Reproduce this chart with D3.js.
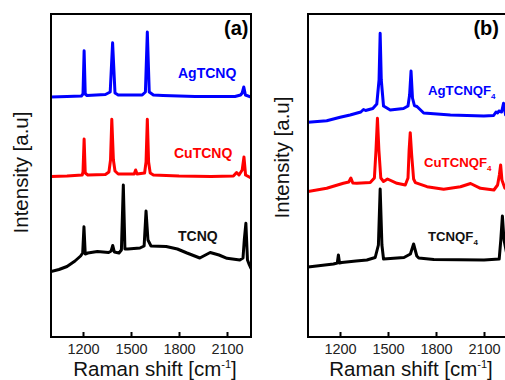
<!DOCTYPE html>
<html>
<head>
<meta charset="utf-8">
<script src="https://cdn.jsdelivr.net/npm/d3@7"></script>
<style>
  html, body { margin: 0; padding: 0; background: #ffffff; }
  svg { display: block; font-family: "Liberation Sans", Arial, Helvetica, sans-serif; }
</style>
</head>
<body>
<svg id="chart" width="505" height="380"></svg>
<script>
// ---------------- data (Raman shift [cm-1], intensity [a.u., stacked]) ----------------
const shiftDomain = [1000, 2250];
const intensityDomain = [0, 323];
const shiftTicks = [1200, 1500, 1800, 2100];

const seriesNamesA = ["AgTCNQ", "CuTCNQ", "TCNQ"];
const seriesNamesB = ["AgTCNQF", "CuTCNQF", "TCNQF"];
const seriesColors = ["#0000ff", "#ff0000", "#000000"];
const panelLetters = ["(a)", "(b)"];

const agTCNQ = [
  [1000,240],[1100,240.5],[1190,241],[1200,243],[1207,286.3],[1214,243],[1225,241.5],
  [1340,242.5],[1370,245],[1385,294.3],[1400,244],[1420,242],[1570,242],[1590,245],
  [1602,305],[1614,245],[1640,242],[1700,241.5],[1900,240.5],[2150,240.5],[2185,242],
  [2195,244],[2205,250],[2215,242],[2250,240]
];
const cuTCNQ = [
  [1000,160.5],[1100,161],[1195,162],[1200,165],[1207,198],[1214,164],[1230,162],
  [1340,162.5],[1362,165],[1372,177],[1380,217.7],[1390,177],[1400,166],[1420,163],
  [1520,163],[1529,167],[1538,163],[1585,164],[1594,175],[1602,217.7],[1610,175],
  [1620,164],[1640,162],[1800,161],[2000,160.5],[2140,161],[2160,164.5],[2175,162],
  [2195,167],[2206,180],[2216,162],[2250,159]
];
const TCNQ = [
  [1000,65.5],[1050,67.5],[1100,70.5],[1150,76],[1185,81],[1198,84],[1206,110.3],
  [1214,83],[1230,84],[1290,85.5],[1360,84.5],[1376,86],[1386,91.5],[1396,85],
  [1425,84],[1440,87],[1452,152],[1462,88],[1480,88],[1556,89],[1582,91],[1594,126],
  [1606,97],[1625,91],[1720,90.5],[1790,88],[1850,84],[1930,79],[1995,84.5],
  [2050,82],[2100,78.7],[2180,77],[2200,79],[2208,97],[2218,113.7],[2228,77],
  [2240,72],[2250,68.5]
];
const agTCNQF4 = [
  [1000,214.7],[1117,216.3],[1201,219.7],[1263,222],[1330,225],[1347,227.5],[1360,226.5],
  [1405,228.5],[1430,233],[1444,257],[1451,303.7],[1458,257],[1472,231],[1514,227],
  [1597,228.5],[1625,231],[1635,242],[1644,266],[1653,239],[1665,231.5],[1681,230.5],
  [1723,224],[1890,222],[2099,221],[2160,221.5],[2175,225],[2185,224],[2193,226],
  [2210,225],[2222,233.7],[2235,222],[2250,221]
];
const cuTCNQF4 = [
  [1000,145.5],[1117,148.7],[1221,153.7],[1255,155],[1268,159],[1280,154],[1305,153.7],
  [1389,154.5],[1415,159],[1425,187],[1434,218.7],[1443,187],[1455,159],[1472,155.5],
  [1497,158],[1556,153.7],[1608,152],[1625,159],[1632,187],[1639,204.3],[1648,182],
  [1660,158],[1671,154.3],[1744,150.3],[1848,147.7],[1953,150.3],[2016,153.5],
  [2078,148.7],[2162,147],[2185,152],[2196,162],[2204,172],[2212,157],[2230,149],[2250,147]
];
const TCNQF4 = [
  [1000,70],[1159,73],[1183,74],[1190,82],[1197,74],[1211,74.5],[1300,76],[1368,77],
  [1420,79.5],[1440,92],[1451,148],[1462,92],[1472,78],[1600,79.5],[1640,83],[1660,93],
  [1680,81],[1692,79],[1786,77.5],[2100,77],[2195,78],[2205,97],[2215,121],[2225,97],[2250,77]
];

// ---------------- layout ----------------
const svg = d3.select("#chart");
const panels = [
  { left: 51, right: 251, top: 14, bottom: 337, series: [agTCNQ, cuTCNQ, TCNQ], names: seriesNamesA, sub: false,
    labelPos: [[178, 78], [174, 158], [178, 241]], labelSize: 14, letterX: 248.5,
    yLabel: [28, 172.5], xLabelDx: 4 },
  { left: 308, right: 508, top: 14, bottom: 337, series: [agTCNQF4, cuTCNQF4, TCNQF4], names: seriesNamesB, sub: true,
    labelPos: [[428, 95], [424, 167], [428, 241]], labelSize: 13.2, letterX: 499,
    yLabel: [289, 157.5], xLabelDx: 3 }
];

panels.forEach((p, i) => {
  const x = d3.scaleLinear().domain(shiftDomain).range([p.left, p.right]);
  const y = d3.scaleLinear().domain(intensityDomain).range([p.bottom, p.top]);
  const g = svg.append("g");

  const clipId = "clip" + i;
  svg.append("defs").append("clipPath").attr("id", clipId)
    .append("rect").attr("x", p.left).attr("y", p.top)
    .attr("width", p.right - p.left).attr("height", p.bottom - p.top);

  const line = d3.line().x(d => x(d[0])).y(d => y(d[1]));
  p.series.forEach((s, k) => {
    g.append("path").datum(s)
      .attr("clip-path", `url(#${clipId})`)
      .attr("d", line)
      .attr("fill", "none")
      .attr("stroke", seriesColors[k])
      .attr("stroke-width", 3)
      .attr("stroke-linejoin", "round")
      .attr("stroke-linecap", "round");
  });

  // frame
  g.append("rect")
    .attr("x", p.left).attr("y", p.top)
    .attr("width", p.right - p.left).attr("height", p.bottom - p.top)
    .attr("fill", "none").attr("stroke", "#000").attr("stroke-width", 2);

  // x axis with inward ticks
  const ax = g.append("g").attr("transform", `translate(0,${p.bottom})`)
    .call(d3.axisBottom(x).tickValues(shiftTicks).tickFormat(d3.format("d"))
      .tickSizeInner(-5).tickSizeOuter(0).tickPadding(7));
  ax.select(".domain").remove();
  ax.selectAll(".tick line").attr("stroke", "#000").attr("stroke-width", 2);
  ax.selectAll(".tick text").attr("fill", "#222").attr("font-size", 14.5)
    .attr("font-family", "'Liberation Sans', Arial, sans-serif");

  // x title
  const xt = g.append("text")
    .attr("x", (p.left + p.right) / 2 + p.xLabelDx).attr("y", 376)
    .attr("text-anchor", "middle").attr("font-size", 20.5).attr("fill", "#111");
  xt.append("tspan").text("Raman shift [cm");
  xt.append("tspan").attr("font-size", 11).attr("dy", -8).text("-1");
  xt.append("tspan").attr("dy", 8).text("]");

  // y title
  g.append("text")
    .attr("transform", `translate(${p.yLabel[0]},${p.yLabel[1]}) rotate(-90)`)
    .attr("text-anchor", "middle").attr("font-size", 20.5).attr("fill", "#111")
    .text("Intensity [a.u]");

  // panel letter
  g.append("text")
    .attr("x", p.letterX).attr("y", 35)
    .attr("text-anchor", "end").attr("font-size", 20).attr("font-weight", "bold")
    .text(panelLetters[i]);

  // series labels
  p.names.forEach((n, k) => {
    const t = g.append("text")
      .attr("x", p.labelPos[k][0]).attr("y", p.labelPos[k][1])
      .attr("font-size", p.labelSize).attr("font-weight", "bold")
      .attr("fill", seriesColors[k] === "#000000" ? "#111" : seriesColors[k]);
    t.append("tspan").text(n);
    if (p.sub) {
      t.append("tspan").attr("font-size", 8).attr("dy", 4).text("4");
    }
  });
});
</script>
</body>
</html>
